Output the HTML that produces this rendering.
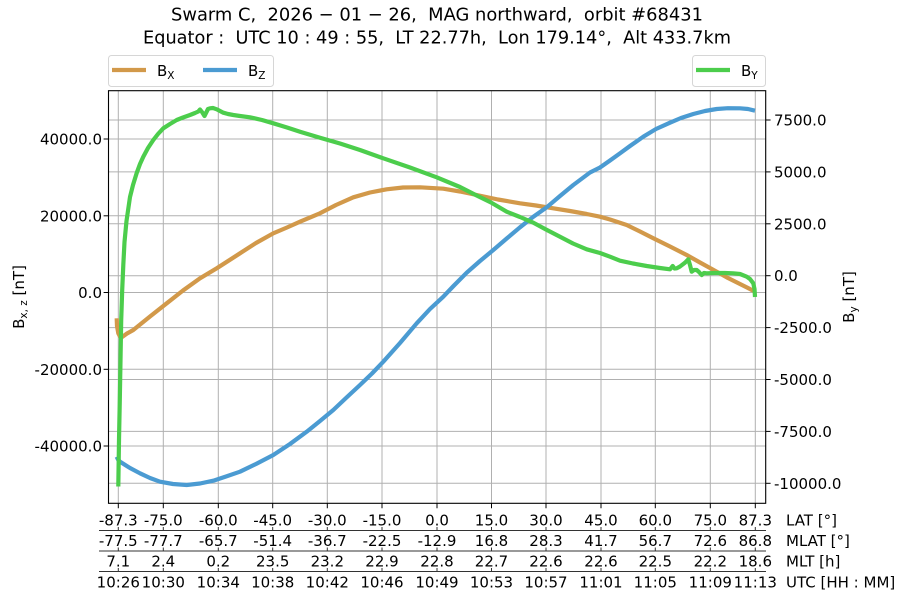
<!DOCTYPE html>
<html><head><meta charset="utf-8"><style>
html,body{margin:0;padding:0;background:#fff;}
svg{display:block;font-family:"DejaVu Sans","Liberation Sans",sans-serif;}
</style></head><body>
<svg width="900" height="600" viewBox="0 0 900 600" xmlns="http://www.w3.org/2000/svg">
<rect width="900" height="600" fill="#fff"/>
<!-- title -->
<text x="437" y="20.7" font-size="18" text-anchor="middle" textLength="532" lengthAdjust="spacingAndGlyphs" xml:space="preserve">Swarm C,  2026 − 01 − 26,  MAG northward,  orbit #68431</text>
<text x="437" y="43.5" font-size="18" text-anchor="middle" textLength="588" lengthAdjust="spacingAndGlyphs" xml:space="preserve">Equator :  UTC 10 : 49 : 55,  LT 22.77h,  Lon 179.14°,  Alt 433.7km</text>

<!-- grid -->
<g stroke="#b0b0b0" stroke-width="1" fill="none">
<line x1="118.3" y1="90.7" x2="118.3" y2="503.3"/>
<line x1="163.3" y1="90.7" x2="163.3" y2="503.3"/>
<line x1="218.3" y1="90.7" x2="218.3" y2="503.3"/>
<line x1="272.7" y1="90.7" x2="272.7" y2="503.3"/>
<line x1="327.3" y1="90.7" x2="327.3" y2="503.3"/>
<line x1="382" y1="90.7" x2="382" y2="503.3"/>
<line x1="437" y1="90.7" x2="437" y2="503.3"/>
<line x1="491.5" y1="90.7" x2="491.5" y2="503.3"/>
<line x1="546" y1="90.7" x2="546" y2="503.3"/>
<line x1="601" y1="90.7" x2="601" y2="503.3"/>
<line x1="655.3" y1="90.7" x2="655.3" y2="503.3"/>
<line x1="710.3" y1="90.7" x2="710.3" y2="503.3"/>
<line x1="755.3" y1="90.7" x2="755.3" y2="503.3"/>
<line x1="108.5" y1="139" x2="765.7" y2="139"/>
<line x1="108.5" y1="215.8" x2="765.7" y2="215.8"/>
<line x1="108.5" y1="292.5" x2="765.7" y2="292.5"/>
<line x1="108.5" y1="369.3" x2="765.7" y2="369.3"/>
<line x1="108.5" y1="446" x2="765.7" y2="446"/>
<line x1="108.5" y1="120" x2="765.7" y2="120"/>
<line x1="108.5" y1="171.9" x2="765.7" y2="171.9"/>
<line x1="108.5" y1="223.8" x2="765.7" y2="223.8"/>
<line x1="108.5" y1="275.7" x2="765.7" y2="275.7"/>
<line x1="108.5" y1="327.6" x2="765.7" y2="327.6"/>
<line x1="108.5" y1="379.5" x2="765.7" y2="379.5"/>
<line x1="108.5" y1="431.4" x2="765.7" y2="431.4"/>
<line x1="108.5" y1="483.3" x2="765.7" y2="483.3"/>
</g>

<!-- curves -->
<g fill="none" stroke-width="4.2" stroke-linejoin="round" stroke-linecap="butt">
<polyline stroke="#d2994a" points="116.7,318.3 117,326 118.3,333.3 120,336.5 121.7,337.3 127,333.5 133.3,330 150,316.5 166.7,303.3 183,290.5 200,278.3 216.7,268.3 240,253.3 256,243 273.3,233.3 287,227.5 300,221.7 320,213.3 336,205 353.3,197.3 370,192.5 386.7,189.3 403,187.5 420,187.3 443.3,188.7 460,191.5 476.7,195 498,199.5 520,203.3 536,205.5 553.3,208.3 570,211 586.7,214 600,216.7 610,219.5 626.7,225 640,231.5 653.3,238.3 670,246.5 686.7,255 700,262.5 716.7,271.7 728,278 740,284 748,288 755,291.7"/>
<polyline stroke="#4b9bd2" points="116.7,456.7 118,459.5 120,461.7 130,468 140,473.3 150,478 160,481.7 173,484 186.7,485 200,483.5 213.3,480.7 226,476.5 240,471.7 256,464 273.3,455 290,444 306.7,431.7 320,421 333.3,410 346,398 360,385 372,373.5 383.3,361.7 400,343 416.7,323.3 430,309 443.3,296.7 453,286.5 466.7,272.7 480,261 493.3,250 506.7,238.5 520,227.3 533,217 546.7,207.3 560,196 573.3,185 590,172.5 600,167.5 610,160.5 620,153.3 630,146 643.3,136.7 656,129 670,122.7 681,118 693.3,114 705,111 716.7,109 728,108.2 740,108.3 748,109 755,110.7"/>
<polyline stroke="#4ccd4c" points="118.3,486.5 119,440 119.8,400 120.5,360 121.2,320 122.2,290 123.3,265 124.5,242 126.5,221 130,197 133,185 136.7,173 140,164 143.3,156.7 148,148 153.3,140 158,134 163.3,128.3 170,124 176.7,120 183,117.5 190,115 195,113 198.3,111.5 200,109.5 202,112 204.5,116 206,113 208,109 210,108.3 213,108 216.7,109.3 220,111 223.3,112.7 228,114 233.3,115 240,116 250,117.3 262,120 273.3,123.3 287,127.5 300,131.7 320,137.7 340,143.5 360,150 383.3,158.3 410,167.5 436.7,177.3 460,187 476.7,195.5 491,202.5 506.7,211.7 520,217 533.3,222.7 546,229.5 560,236.7 573,243.5 586.7,249.3 600,253 610,256.7 620,260.7 633,263.5 646.7,266 660,268 670,269.3 672.7,266 674.5,268.5 676.7,268.3 680,266.5 685,262.7 688.3,259.3 690,265 691.7,271.7 694,270 696.7,270 699,272 701.7,275 704,273 706.7,273.3 715,273 725,273 733.3,273.3 740,274 746.7,276.7 750,279 753.3,283.3 754.5,289 755,297"/>
</g>

<!-- frame -->
<rect x="108.5" y="90.7" width="657.2" height="412.6" fill="none" stroke="#000" stroke-width="1.1"/>

<!-- ticks -->
<g stroke="#000" stroke-width="1">
<line x1="103.6" y1="139" x2="108.5" y2="139"/>
<line x1="103.6" y1="215.8" x2="108.5" y2="215.8"/>
<line x1="103.6" y1="292.5" x2="108.5" y2="292.5"/>
<line x1="103.6" y1="369.3" x2="108.5" y2="369.3"/>
<line x1="103.6" y1="446" x2="108.5" y2="446"/>
<line x1="765.7" y1="120" x2="770.6" y2="120"/>
<line x1="765.7" y1="171.9" x2="770.6" y2="171.9"/>
<line x1="765.7" y1="223.8" x2="770.6" y2="223.8"/>
<line x1="765.7" y1="275.7" x2="770.6" y2="275.7"/>
<line x1="765.7" y1="327.6" x2="770.6" y2="327.6"/>
<line x1="765.7" y1="379.5" x2="770.6" y2="379.5"/>
<line x1="765.7" y1="431.4" x2="770.6" y2="431.4"/>
<line x1="765.7" y1="483.3" x2="770.6" y2="483.3"/>
</g>
<g stroke="#000" stroke-width="1">
<path d="M118.3 503.3v4.9M163.3 503.3v4.9M218.3 503.3v4.9M272.7 503.3v4.9M327.3 503.3v4.9M382 503.3v4.9M437 503.3v4.9M491.5 503.3v4.9M546 503.3v4.9M601 503.3v4.9M655.3 503.3v4.9M710.3 503.3v4.9M755.3 503.3v4.9"/>
</g>
<!-- row separators -->
<g stroke="#333" stroke-width="1">
<line x1="99" y1="530.5" x2="766" y2="530.5"/>
<line x1="99" y1="551" x2="766" y2="551"/>
<line x1="99" y1="571.5" x2="766" y2="571.5"/>
<path d="M118.3 527v3.5M163.3 527v3.5M218.3 527v3.5M272.7 527v3.5M327.3 527v3.5M382 527v3.5M437 527v3.5M491.5 527v3.5M546 527v3.5M601 527v3.5M655.3 527v3.5M710.3 527v3.5M755.3 527v3.5"/>
<path d="M118.3 547.5v3.5M163.3 547.5v3.5M218.3 547.5v3.5M272.7 547.5v3.5M327.3 547.5v3.5M382 547.5v3.5M437 547.5v3.5M491.5 547.5v3.5M546 547.5v3.5M601 547.5v3.5M655.3 547.5v3.5M710.3 547.5v3.5M755.3 547.5v3.5"/>
<path d="M118.3 568v3.5M163.3 568v3.5M218.3 568v3.5M272.7 568v3.5M327.3 568v3.5M382 568v3.5M437 568v3.5M491.5 568v3.5M546 568v3.5M601 568v3.5M655.3 568v3.5M710.3 568v3.5M755.3 568v3.5"/>
</g>

<!-- left tick labels -->
<g font-size="15" text-anchor="end" fill="#000">
<text x="102" y="144.5">40000.0</text>
<text x="102" y="221.3">20000.0</text>
<text x="102" y="298">0.0</text>
<text x="102" y="374.8">-20000.0</text>
<text x="102" y="451.5">-40000.0</text>
</g>
<!-- right tick labels -->
<g font-size="15" text-anchor="start" fill="#000">
<text x="774" y="125.5">7500.0</text>
<text x="774" y="177.4">5000.0</text>
<text x="774" y="229.3">2500.0</text>
<text x="774" y="281.2">0.0</text>
<text x="774" y="333.1">-2500.0</text>
<text x="774" y="385">-5000.0</text>
<text x="774" y="436.9">-7500.0</text>
<text x="774" y="488.8">-10000.0</text>
</g>

<!-- bottom rows -->
<g font-size="15" text-anchor="middle" fill="#000">
<g transform="translate(0,525.7)">
<text x="118.3">-87.3</text><text x="163.3">-75.0</text><text x="218.3">-60.0</text><text x="272.7">-45.0</text><text x="327.3">-30.0</text><text x="382">-15.0</text><text x="437">0.0</text><text x="491.5">15.0</text><text x="546">30.0</text><text x="601">45.0</text><text x="655.3">60.0</text><text x="710.3">75.0</text><text x="755.3">87.3</text>
</g>
<g transform="translate(0,546)">
<text x="118.3">-77.5</text><text x="163.3">-77.7</text><text x="218.3">-65.7</text><text x="272.7">-51.4</text><text x="327.3">-36.7</text><text x="382">-22.5</text><text x="437">-12.9</text><text x="491.5">16.8</text><text x="546">28.3</text><text x="601">41.7</text><text x="655.3">56.7</text><text x="710.3">72.6</text><text x="755.3">86.8</text>
</g>
<g transform="translate(0,566.7)">
<text x="118.3">7.1</text><text x="163.3">2.4</text><text x="218.3">0.2</text><text x="272.7">23.5</text><text x="327.3">23.2</text><text x="382">22.9</text><text x="437">22.8</text><text x="491.5">22.7</text><text x="546">22.6</text><text x="601">22.6</text><text x="655.3">22.5</text><text x="710.3">22.2</text><text x="755.3">18.6</text>
</g>
<g transform="translate(0,587.7)">
<text x="118.3">10:26</text><text x="163.3">10:30</text><text x="218.3">10:34</text><text x="272.7">10:38</text><text x="327.3">10:42</text><text x="382">10:46</text><text x="437">10:49</text><text x="491.5">10:53</text><text x="546">10:57</text><text x="601">11:01</text><text x="655.3">11:05</text><text x="710.3">11:09</text><text x="755.3">11:13</text>
</g>
</g>
<g font-size="15" fill="#000">
<text x="786" y="525.7">LAT [°]</text>
<text x="786" y="546">MLAT [°]</text>
<text x="786" y="566.7">MLT [h]</text>
<text x="786" y="587.7" xml:space="preserve">UTC [HH : MM]</text>
</g>

<!-- axis labels -->
<text transform="translate(24,297) rotate(-90)" font-size="15" text-anchor="middle">B<tspan font-size="10.5" dy="3">x, z</tspan><tspan dy="-3"> [nT]</tspan></text>
<text transform="translate(854,297) rotate(-90)" font-size="15" text-anchor="middle">B<tspan font-size="10.5" dy="3">y</tspan><tspan dy="-3"> [nT]</tspan></text>

<!-- legends -->
<rect x="108.5" y="55.5" width="165" height="31" rx="3" fill="#fff" fill-opacity="0.8" stroke="#d6d6d6" stroke-width="1"/>
<line x1="112" y1="70" x2="146" y2="70" stroke="#d2994a" stroke-width="4.2"/>
<text x="157" y="76" font-size="15">B<tspan font-size="10.5" dy="3">X</tspan></text>
<line x1="203" y1="70" x2="237" y2="70" stroke="#4b9bd2" stroke-width="4.2"/>
<text x="248" y="76" font-size="15">B<tspan font-size="10.5" dy="3">Z</tspan></text>

<rect x="692.5" y="55.5" width="73" height="31" rx="3" fill="#fff" fill-opacity="0.8" stroke="#d6d6d6" stroke-width="1"/>
<line x1="696" y1="70" x2="730" y2="70" stroke="#4ccd4c" stroke-width="4.2"/>
<text x="741" y="76" font-size="15">B<tspan font-size="10.5" dy="3">Y</tspan></text>
</svg>
</body></html>
